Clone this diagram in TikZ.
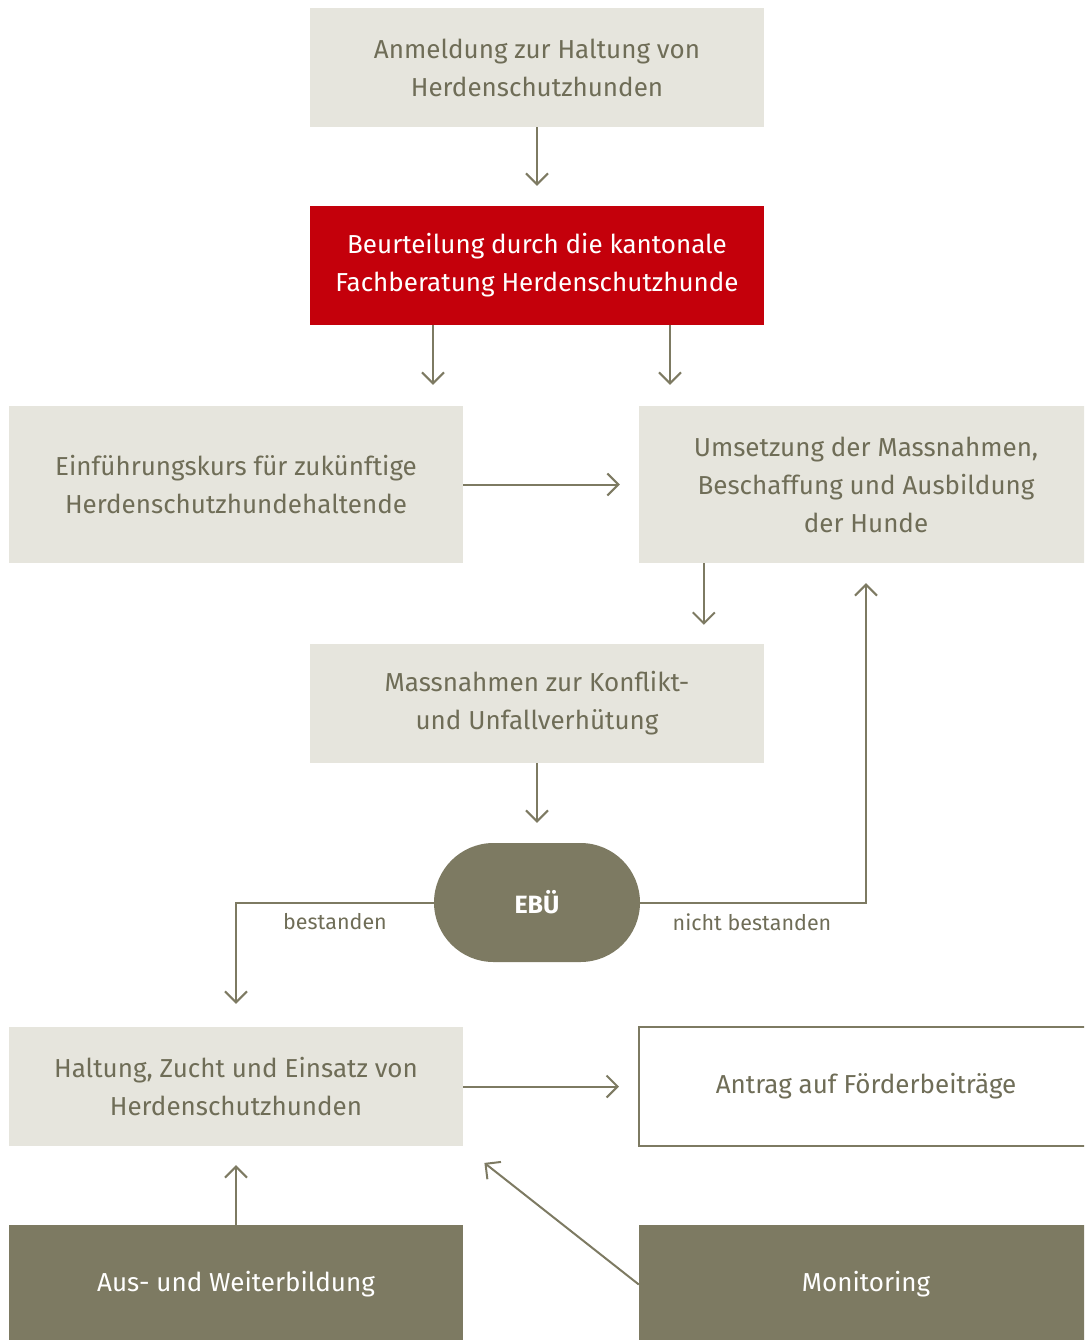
\documentclass[tikz,border=0pt]{standalone}
\usepackage{fontspec}
\setmainfont{Fira Sans}
\usetikzlibrary{arrows.meta}

\definecolor{hsgrau}{HTML}{E6E5DD}
\definecolor{hsoliv}{HTML}{7D7A62}
\definecolor{hstext}{HTML}{6F6D57}
\definecolor{hsrot}{HTML}{C4000B}

\begin{document}
\begin{tikzpicture}[x=1pt,y=-1pt,font=\fontsize{26}{38}\selectfont,
  feld/.style={rectangle,fill=hsgrau,text=hstext,align=center,
    minimum width=454pt,minimum height=119pt,inner sep=0pt},
  feldrot/.style={feld,fill=hsrot,text=white},
  feldoliv/.style={feld,fill=hsoliv,text=white},
  feldrahmen/.style={feld,fill=white,draw=hsoliv,line width=2pt},
  pfeil/.style={draw=hsoliv,line width=2pt,-{Straight Barb[length=11pt,width=22pt]}},
  lbl/.style={text=hstext,font=\fontsize{21.5}{24}\selectfont,inner sep=0pt}]

\useasboundingbox (0,0) rectangle (1084,1340);
\clip (0,0) rectangle (1084,1340);

\node[feld] (anm) at (537,67.5) {Anmeldung zur Haltung von\\Herdenschutzhunden};
\node[feldrot] (beu) at (537,265.5) {Beurteilung durch die kantonale\\Fachberatung Herdenschutzhunde};
\node[feld,minimum height=157pt] (einf) at (236,484.5) {Einführungskurs für zukünftige\\Herdenschutzhundehaltende};
\node[feld,minimum height=157pt] (umset) at (866,484.5) {Umsetzung der Massnahmen,\\Beschaffung und Ausbildung\\der Hunde};
\node[feld] (massn) at (537,703.5) {Massnahmen zur Konflikt-\\und Unfallverhütung};
\node[feldoliv,minimum width=206pt,rounded corners=59.5pt,font=\fontsize{25}{30}\selectfont\bfseries] (ebu) at (537,902.5) {EBÜ};
\node[feld] (halt) at (236,1086.5) {Haltung, Zucht und Einsatz von\\Herdenschutzhunden};
\node[feldrahmen] (antrag) at (866,1086.5) {Antrag auf Förderbeiträge};
\node[feldoliv] (ausb) at (236,1284.5) {Aus- und Weiterbildung};
\node[feldoliv] (monit) at (866,1284.5) {Monitoring};

\node[lbl] (best) at (335,922) {bestanden};
\node[lbl] (nbest) at (752,922) {nicht bestanden};

\draw[pfeil,shorten >=20pt] (anm.south) -- (beu.north);
\draw[pfeil,shorten >=21pt] ([xshift=-104pt]beu.south) -- ([xshift=-104pt]beu.south |- einf.north);
\draw[pfeil,shorten >=21pt] ([xshift=133pt]beu.south) -- ([xshift=133pt]beu.south |- umset.north);
\draw[pfeil,shorten >=19pt] (einf.east) -- (umset.west);
\draw[pfeil,shorten >=19pt] ([xshift=65pt]umset.south west) -- ([xshift=65pt]umset.south west |- massn.north);
\draw[pfeil,shorten >=20pt] (massn.south) -- (ebu.north);
\draw[pfeil,shorten >=23pt] (ebu.west) -| (halt.north);
\draw[pfeil,shorten >=20pt] (ebu.east) -| (umset.south);
\draw[pfeil,shorten >=19pt] (halt.east) -- (antrag.west);
\draw[pfeil,shorten >=19pt] (ausb.north) -- (halt.south);
\draw[pfeil,shorten >=27pt] (monit.west) -- (halt.south east);

\end{tikzpicture}
\end{document}
